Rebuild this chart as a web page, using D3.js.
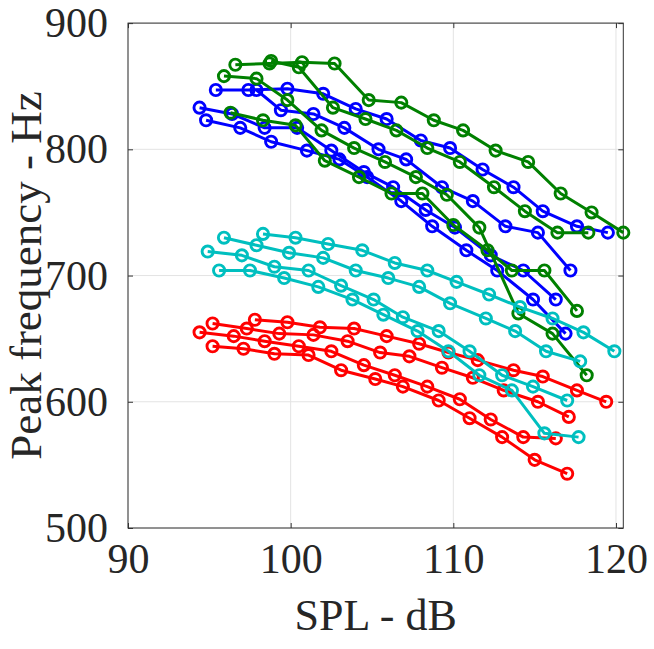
<!DOCTYPE html>
<html>
<head>
<meta charset="utf-8">
<script src="https://cdn.jsdelivr.net/npm/d3@7"></script>
<style>
body { margin: 0; background: #fff; }
svg text { font-family: "Liberation Serif", "Times New Roman", serif; fill: #262626; }
</style>
</head>
<body>
<svg id="chart" width="654" height="649"></svg>
<script>
// measured curves: SPL (dB) against peak frequency (Hz)
var redA_spl  = [95.2, 97.3, 99.3, 101.4, 103.5, 105.5, 107.3, 109.3, 111.2, 113.1, 115.2, 117.1];
var redA_freq = [662, 658, 654, 653, 648, 639, 636, 627, 619, 609, 600, 588];
var redB_spl  = [94.4, 96.5, 98.4, 100.5, 102.5, 104.5, 106.4, 108.4, 110.4, 112.3, 114.3, 116.3];
var redB_freq = [655, 652, 648, 644, 640, 629, 621, 612, 602, 586, 572, 571];
var redC_spl  = [97.8, 99.8, 101.8, 103.9, 105.9, 107.9, 109.7, 111.5, 113.7, 115.5, 117.6, 119.4];
var redC_freq = [665, 663, 659, 658, 652, 646, 639, 633, 625, 620, 609, 600];
var redD_spl  = [95.2, 97.1, 99.0, 101.1, 103.1, 105.2, 106.9, 109.1, 111.0, 113.0, 115.0, 117.0];
var redD_freq = [644, 642, 638, 637, 625, 618, 612, 601, 587, 572, 554, 543];

var blueA_spl  = [95.4, 97.4, 99.8, 102.0, 104.0, 105.9, 108.0, 109.8, 111.8, 113.7, 115.5, 117.6, 119.5];
var blueA_freq = [847, 847, 848, 844, 832, 824, 807, 801, 784, 770, 751, 739, 734];
var blueB_spl  = [97.9, 99.4, 101.4, 103.3, 105.4, 107.1, 109.3, 111.2, 113.2, 115.2, 117.2];
var blueB_freq = [847, 831, 828, 817, 800, 792, 770, 759, 739, 734, 704];
var blueC_spl  = [94.4, 96.4, 98.4, 100.4, 102.5, 104.5, 106.3, 108.3, 110.1, 112.3, 114.3, 116.3];
var blueC_freq = [833, 828, 817, 817, 799, 782, 770, 752, 738, 716, 704, 681];
var blueD_spl  = [94.8, 96.9, 98.8, 101.0, 103.0, 104.7, 106.8, 108.7, 110.8, 112.7, 114.9, 116.9];
var blueD_freq = [823, 817, 806, 799, 792, 778, 759, 739, 720, 704, 681, 654];

var greenA_spl  = [96.6, 98.7, 100.7, 102.7, 104.8, 106.8, 108.8, 110.6, 112.6, 114.6, 116.6, 118.5, 120.45];
var greenA_freq = [867, 868, 869, 868, 839, 837, 823, 815, 799, 790, 765, 750, 734];
var greenB_spl  = [95.9, 97.9, 99.8, 101.9, 103.9, 105.8, 107.7, 109.6, 111.6, 114.0, 116.1, 118.2];
var greenB_freq = [858, 856, 839, 815, 801, 790, 778, 764, 738, 670, 654, 621];
var greenC_spl  = [98.8, 100.5, 102.6, 104.6, 106.5, 108.4, 110.4, 112.5, 114.4, 116.4, 118.3];
var greenC_freq = [870, 865, 833, 824, 815, 801, 790, 770, 751, 734, 734];
var greenD_spl  = [96.3, 98.3, 100.3, 102.1, 104.2, 106.2, 108.1, 110.0, 112.1, 113.6, 115.6, 117.6];
var greenD_freq = [829, 823, 819, 791, 778, 765, 765, 740, 720, 704, 704, 672];

var cyanA_spl  = [98.3, 100.3, 102.3, 104.4, 106.4, 108.4, 110.2, 112.2, 114.1, 116.1, 118.0, 119.9];
var cyanA_freq = [733, 730, 725, 720, 710, 704, 695, 685, 675, 666, 655, 640];
var cyanB_spl  = [95.9, 97.9, 99.9, 102.0, 104.0, 106.0, 107.9, 109.8, 112.0, 113.8, 115.7, 117.8];
var cyanB_freq = [730, 724, 718, 714, 704, 698, 691, 678, 666, 656, 640, 632];
var cyanC_spl  = [94.9, 97.0, 99.0, 101.1, 103.1, 105.1, 106.9, 109.1, 111.0, 113.0, 114.9, 117.0];
var cyanC_freq = [719, 716, 707, 704, 692, 681, 667, 656, 640, 621, 612, 601];
var cyanD_spl  = [95.6, 97.5, 99.6, 101.7, 103.8, 105.7, 107.8, 109.7, 111.6, 113.6, 115.6, 117.7];
var cyanD_freq = [704, 704, 698, 691, 681, 669, 656, 640, 621, 609, 575, 572];

var xTicks = [90, 100, 110, 120];
var yTicks = [500, 600, 700, 800, 900];

var red = "#ff0000", blue = "#0000ff", green = "#008000", cyan = "#00bfbf";

// drawing order (later ones on top)
var series = [
  {spl: redA_spl, freq: redA_freq, color: red},
  {spl: redB_spl, freq: redB_freq, color: red},
  {spl: redC_spl, freq: redC_freq, color: red},
  {spl: redD_spl, freq: redD_freq, color: red},
  {spl: blueA_spl, freq: blueA_freq, color: blue},
  {spl: blueB_spl, freq: blueB_freq, color: blue},
  {spl: blueC_spl, freq: blueC_freq, color: blue},
  {spl: blueD_spl, freq: blueD_freq, color: blue},
  {spl: greenA_spl, freq: greenA_freq, color: green},
  {spl: greenB_spl, freq: greenB_freq, color: green},
  {spl: greenC_spl, freq: greenC_freq, color: green},
  {spl: greenD_spl, freq: greenD_freq, color: green},
  {spl: cyanA_spl, freq: cyanA_freq, color: cyan},
  {spl: cyanB_spl, freq: cyanB_freq, color: cyan},
  {spl: cyanC_spl, freq: cyanC_freq, color: cyan},
  {spl: cyanD_spl, freq: cyanD_freq, color: cyan}
];

// plot box in pixels
var padLeft = 128, padRight = 623.3, padTop = 23.1, padBottom = 528;

var x = d3.scaleLinear().domain([90, 120.45]).range([padLeft, padRight]);
var y = d3.scaleLinear().domain([500, 900]).range([padBottom, padTop]);

var svg = d3.select("#chart");

// grid
var grid = svg.append("g").attr("id", "grid");
grid.selectAll(".gx").data(xTicks).enter().append("line")
  .attr("x1", function(d){ return x(d); }).attr("x2", function(d){ return x(d); })
  .attr("y1", padTop).attr("y2", padBottom)
  .attr("stroke", "#e3e3e3").attr("stroke-width", 1);
grid.selectAll(".gy").data(yTicks).enter().append("line")
  .attr("y1", function(d){ return y(d); }).attr("y2", function(d){ return y(d); })
  .attr("x1", padLeft).attr("x2", padRight)
  .attr("stroke", "#e3e3e3").attr("stroke-width", 1);

// axes box + inward ticks
var axisColor = "#333";
svg.append("rect")
  .attr("x", padLeft).attr("y", padTop)
  .attr("width", padRight - padLeft).attr("height", padBottom - padTop)
  .attr("fill", "none").attr("stroke", axisColor).attr("stroke-width", 1);

var gx = svg.append("g").attr("transform", "translate(0," + padBottom + ")")
  .call(d3.axisBottom(x).tickValues(xTicks).tickSizeInner(-5).tickSizeOuter(0).tickPadding(7));
gx.select(".domain").remove();
gx.selectAll("line").attr("stroke", axisColor);
gx.selectAll("text").attr("font-size", 42).attr("dy", "0.9em").attr("fill", "#262626")
  .style("font-family", "'Liberation Serif', serif");

var gxTop = svg.append("g").attr("transform", "translate(0," + padTop + ")")
  .call(d3.axisTop(x).tickValues(xTicks).tickSizeInner(-5).tickSizeOuter(0).tickFormat(""));
gxTop.select(".domain").remove();
gxTop.selectAll("line").attr("stroke", axisColor);

var gy = svg.append("g").attr("transform", "translate(" + padLeft + ",0)")
  .call(d3.axisLeft(y).tickValues(yTicks).tickSizeInner(-5).tickSizeOuter(0).tickPadding(20));
gy.select(".domain").remove();
gy.selectAll("line").attr("stroke", axisColor);
gy.selectAll("text").attr("font-size", 42).attr("fill", "#262626")
  .style("font-family", "'Liberation Serif', serif");

var gyRight = svg.append("g").attr("transform", "translate(" + padRight + ",0)")
  .call(d3.axisRight(y).tickValues(yTicks).tickSizeInner(-5).tickSizeOuter(0).tickFormat(""));
gyRight.select(".domain").remove();
gyRight.selectAll("line").attr("stroke", axisColor);

// curves
var line = d3.line()
  .x(function(d){ return x(d[0]); })
  .y(function(d){ return y(d[1]); });

series.forEach(function(s) {
  var pts = s.spl.map(function(v, i){ return [v, s.freq[i]]; });
  var g = svg.append("g");
  g.append("path")
    .attr("d", line(pts))
    .attr("fill", "none")
    .attr("stroke", s.color)
    .attr("stroke-width", 3)
    .attr("stroke-linejoin", "round");
  g.selectAll("circle").data(pts).enter().append("circle")
    .attr("cx", function(d){ return x(d[0]); })
    .attr("cy", function(d){ return y(d[1]); })
    .attr("r", 5.6)
    .attr("fill", "none")
    .attr("stroke", s.color)
    .attr("stroke-width", 2.9);
});

// labels
svg.append("text")
  .attr("x", (padLeft + padRight) / 2).attr("y", 630)
  .attr("text-anchor", "middle")
  .attr("font-size", 44)
  .text("SPL - dB");

svg.append("text")
  .attr("transform", "translate(41," + (padTop + padBottom) / 2 + ") rotate(-90)")
  .attr("text-anchor", "middle")
  .attr("font-size", 45)
  .text("Peak frequency - Hz");
</script>
</body>
</html>
